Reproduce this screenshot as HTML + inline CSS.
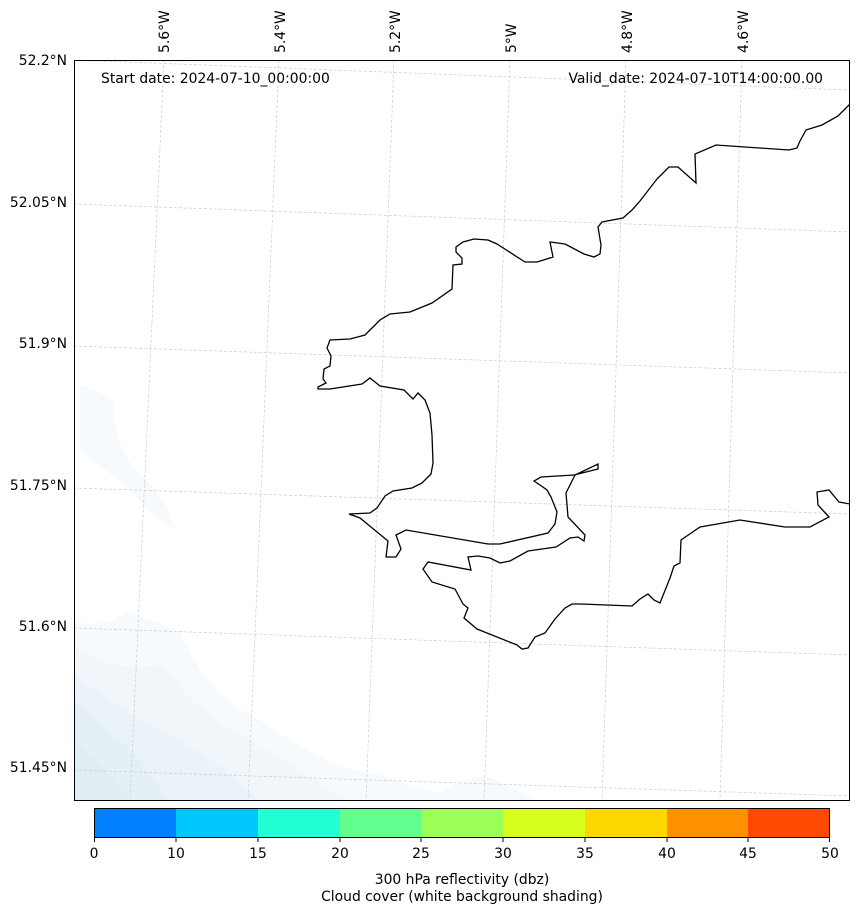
<!DOCTYPE html>
<html><head><meta charset="utf-8"><style>
body{margin:0;background:#fff;}
svg{display:block;font-family:"DejaVu Sans","Liberation Sans",sans-serif;}
</style></head><body>
<svg width="859" height="914" viewBox="0 0 859 914">
<defs><clipPath id="c"><rect x="74" y="60" width="776" height="741"/></clipPath></defs>
<g clip-path="url(#c)">
<path d="M74,621 Q100,630 128,611 L180,632 Q210,700 260,720 Q330,770 380,775 Q420,790 440,792 Q470,775 490,777 L540,801 L74,801Z" fill="#f6fafc"/>
<path d="M74,645 Q110,675 163,664 Q190,710 250,740 Q300,770 330,790 L350,801 L74,801Z" fill="#f0f6f9"/>
<path d="M74,674 Q120,710 160,730 Q220,760 260,801 L74,801Z" fill="#eaf3f7"/>
<path d="M74,700 Q110,730 140,760 L170,801 L74,801Z" fill="#e5f0f5"/>
<path d="M74,740 L115,780 L130,801 L74,801Z" fill="#e0edf3"/>
<path d="M80,385 L95,390 L113,400 Q112,440 135,470 Q170,500 173,527 Q160,525 130,490 Q100,465 80,450Z" fill="#f6fafc"/>
<g stroke="#ccc" stroke-width="0.7" stroke-dasharray="3,2" fill="none">
<line x1="164" y1="60" x2="130" y2="801"/><line x1="279" y1="60" x2="248" y2="801"/>
<line x1="394" y1="60" x2="366" y2="801"/><line x1="510" y1="60" x2="484" y2="801"/>
<line x1="626" y1="60" x2="602" y2="801"/><line x1="742" y1="60" x2="720" y2="801"/>
<line x1="74" y1="60" x2="850" y2="90"/><line x1="74" y1="204" x2="850" y2="232"/>
<line x1="74" y1="346" x2="850" y2="373"/><line x1="74" y1="488" x2="850" y2="514"/>
<line x1="74" y1="628" x2="850" y2="655"/><line x1="74" y1="770" x2="850" y2="796"/>
</g>
<polyline fill="none" stroke="#000" stroke-width="1.3" points="850,104 838,116 822,125 806,130 800,141 797,148 789,150 716,145 695,154 696,183 678,167 669,167 657,179 640,201 632,210 623,218 602,222 598,227 601,245 600,254 594,257 584,254 565,244 550,242 553,257 537,262 525,262 497,244 488,240 474,239 463,242 456,247 456,252 462,258 462,264 453,265 452,289 432,303 410,312 390,314 380,320 365,335 350,339 330,340 327,348 331,356 330,366 324,369 323,379 326,383 318,387 318,389 330,389 362,384 370,378 380,386 404,390 413,399 418,393 425,400 430,413 432,435 433,463 431,474 422,483 412,488 393,491 385,496 377,508 370,513 349,514 360,518 388,541 386,557 396,557 401,549 396,535 406,530 488,544 500,544 548,533 555,524 557,512 551,497 547,490 540,485 534,481 541,477 574,475 598,469 598,464 575,475 566,493 568,517 585,535 584,541 578,537 570,538 556,547 528,551 510,561 500,563 490,558 478,556 468,557 471,570 428,562 423,569 432,582 455,589 463,604 468,608 464,618 477,629 517,645 522,649 528,648 535,637 545,633 555,619 565,608 572,604 581,604 632,606 640,599 648,594 654,600 660,603 670,578 674,566 680,563 681,540 700,527 740,520 785,527 810,527 829,517 818,505 817,492 829,490 839,502 850,504"/>
</g>
<rect x="74.5" y="60.5" width="775" height="740" fill="none" stroke="#000" stroke-width="1"/>
<g font-size="13.9" fill="#000">
<text x="101" y="83">Start date: 2024-07-10_00:00:00</text>
<text x="823" y="83" text-anchor="end">Valid_date: 2024-07-10T14:00:00.00</text>
<g text-anchor="end">
<text x="67" y="65">52.2°N</text><text x="67" y="207">52.05°N</text><text x="67" y="348">51.9°N</text>
<text x="67" y="490">51.75°N</text><text x="67" y="631">51.6°N</text><text x="67" y="772">51.45°N</text>
</g>
<g>
<text transform="translate(169,53) rotate(-90)">5.6°W</text>
<text transform="translate(285,53) rotate(-90)">5.4°W</text>
<text transform="translate(400,53) rotate(-90)">5.2°W</text>
<text transform="translate(516,53) rotate(-90)">5°W</text>
<text transform="translate(632,53) rotate(-90)">4.8°W</text>
<text transform="translate(748,53) rotate(-90)">4.6°W</text>
</g>
</g>
<g>
<rect x="94" y="808" width="82" height="30" fill="#0080ff"/>
<rect x="176" y="808" width="82" height="30" fill="#00c8ff"/>
<rect x="258" y="808" width="82" height="30" fill="#22ffd4"/>
<rect x="340" y="808" width="82" height="30" fill="#62ff8e"/>
<rect x="421" y="808" width="82" height="30" fill="#9cff56"/>
<rect x="503" y="808" width="82" height="30" fill="#d6ff1e"/>
<rect x="585" y="808" width="82" height="30" fill="#ffd800"/>
<rect x="667" y="808" width="82" height="30" fill="#ff9000"/>
<rect x="748" y="808" width="82" height="30" fill="#ff4800"/>
<rect x="94.5" y="808.5" width="735" height="29" fill="none" stroke="#000" stroke-width="1"/>
</g>
<g font-size="13.9" text-anchor="middle" fill="#000">
<text x="94" y="858">0</text><text x="176" y="858">10</text><text x="258" y="858">15</text>
<text x="340" y="858">20</text><text x="421" y="858">25</text><text x="503" y="858">30</text>
<text x="585" y="858">35</text><text x="667" y="858">40</text><text x="748" y="858">45</text><text x="830" y="858">50</text>
<text x="462" y="884">300 hPa reflectivity (dbz)</text>
<text x="462" y="901">Cloud cover (white background shading)</text>
</g>
<g stroke="#000" stroke-width="1">
<line x1="94.5" y1="838" x2="94.5" y2="842"/><line x1="176" y1="838" x2="176" y2="842"/><line x1="258" y1="838" x2="258" y2="842"/>
<line x1="340" y1="838" x2="340" y2="842"/><line x1="421" y1="838" x2="421" y2="842"/><line x1="503" y1="838" x2="503" y2="842"/>
<line x1="585" y1="838" x2="585" y2="842"/><line x1="667" y1="838" x2="667" y2="842"/><line x1="748" y1="838" x2="748" y2="842"/><line x1="829.5" y1="838" x2="829.5" y2="842"/>
</g>
</svg>
</body></html>
